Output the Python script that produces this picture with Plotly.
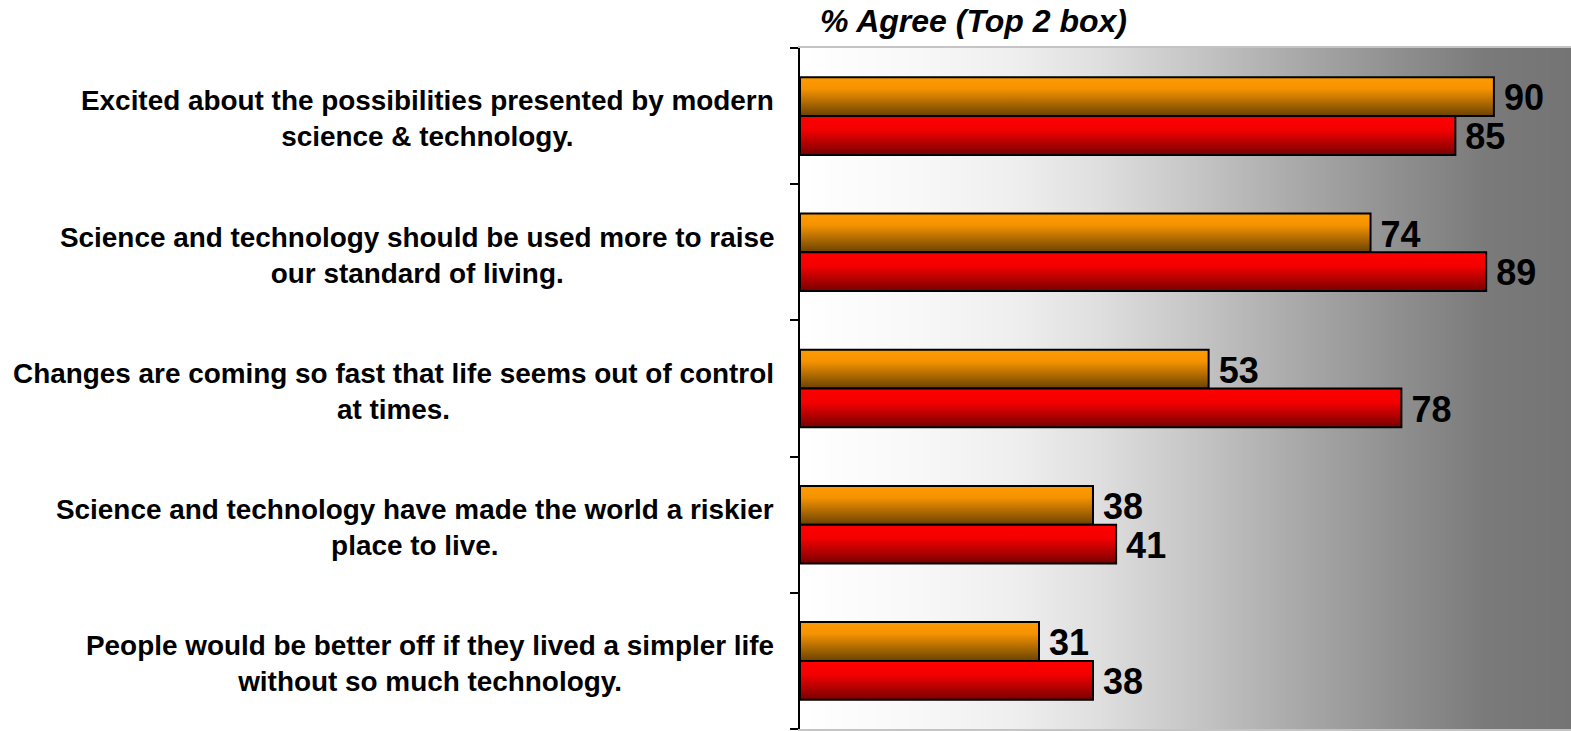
import plotly.graph_objects as go

# ---- data ----
categories = [
    "Excited about the possibilities presented by modern<br>science & technology.",
    "Science and technology should be used more to raise<br>our standard of living.",
    "Changes are coming so fast that life seems out of control<br>at times.",
    "Science and technology have made the world a riskier<br>place to live.",
    "People would be better off if they lived a simpler life<br>without so much technology.",
]
series_orange = [90, 74, 53, 38, 31]
series_red = [85, 89, 78, 41, 38]
title_text = "% Agree (Top 2 box)"

# ---- styling ----
BAR_H = 0.285
LABEL_FONT = "Liberation Sans Narrow, Arial Narrow, Liberation Sans, Arial, sans-serif"
NUM_FONT = "Liberation Sans, Arial, sans-serif"
orange_scale = [[0, "#FF9A00"], [0.3, "#F59300"], [1, "#6A4200"]]
red_scale = [[0, "#FF0000"], [0.35, "#F40000"], [1, "#780000"]]
bg_scale = [[0, "#FFFFFF"], [0.15, "#F8F8F8"], [0.28, "#EEEEEE"], [0.38, "#E0E0E0"],
            [0.5, "#C8C8C8"], [0.63, "#ACACAC"], [0.76, "#929292"], [0.89, "#7A7A7A"],
            [1, "#747474"]]

fig = go.Figure()

# background gradient
fig.add_trace(go.Heatmap(x=[0, 100], y=[-0.5, 4.5], z=[[0, 1], [0, 1]],
                         colorscale=bg_scale, showscale=False, zsmooth="best",
                         hoverinfo="skip"))

idx = list(range(len(categories)))

def add_bar(v, top, bot, cscale):
    fig.add_trace(go.Scatter(
        x=[0, v, v, 0, 0], y=[top, top, bot, bot, top],
        mode="lines", fill="toself",
        fillgradient=dict(type="vertical", colorscale=cscale, start=top, stop=bot),
        line=dict(color="black", width=2), hoverinfo="skip", showlegend=False))

for i in idx:
    add_bar(series_orange[i], i - BAR_H, i, orange_scale)
    add_bar(series_red[i], i, i + BAR_H, red_scale)

num_font = dict(family=NUM_FONT, size=36, color="black", weight="bold")
fig.add_trace(go.Scatter(
    x=series_orange, y=[i - BAR_H / 2 + 0.035 for i in idx],
    text=["\u00a0" + str(v) for v in series_orange], mode="text",
    textposition="middle right", textfont=num_font,
    showlegend=False, hoverinfo="skip"))
fig.add_trace(go.Scatter(
    x=series_red, y=[i + BAR_H / 2 + 0.035 for i in idx],
    text=["\u00a0" + str(v) for v in series_red], mode="text",
    textposition="middle right", textfont=num_font,
    showlegend=False, hoverinfo="skip"))

annotations = []
for i, c in zip(idx, categories):
    annotations.append(dict(
        x=-0.031, xref="paper", y=i + 0.02, yref="y", text="<b>" + c + "</b>",
        xanchor="right", yanchor="middle", align="center", showarrow=False,
        font=dict(family=LABEL_FONT, size=27.9, color="black")))
annotations.append(dict(
    x=0.225, xref="paper", y=1.04, yref="paper", text="<b><i>" + title_text + "</i></b>",
    xanchor="center", yanchor="middle", showarrow=False,
    font=dict(family=NUM_FONT, size=32, color="black")))

fig.update_layout(
    width=1571, height=731,
    margin=dict(l=800, r=0, t=48, b=2),
    paper_bgcolor="white", plot_bgcolor="white",
    showlegend=False,
    annotations=annotations,
    xaxis=dict(range=[0, 100], showticklabels=False, showgrid=False, zeroline=False,
               showline=True, linecolor="#C4C4C4", linewidth=2, mirror=True, ticks=""),
    yaxis=dict(range=[4.5, -0.5], tickvals=[-0.5, 0.5, 1.5, 2.5, 3.5, 4.5],
               ticktext=[""] * 6, ticks="outside", ticklen=8, tickwidth=2,
               tickcolor="black", showgrid=False, zeroline=False,
               showline=True, linecolor="black", linewidth=2),
)

# remove the page's default body margin so the figure fills the window exactly
fig.write_html("out.html", config={"displayModeBar": False},
               post_script="document.body.style.margin='0';document.body.style.overflow='hidden';")
